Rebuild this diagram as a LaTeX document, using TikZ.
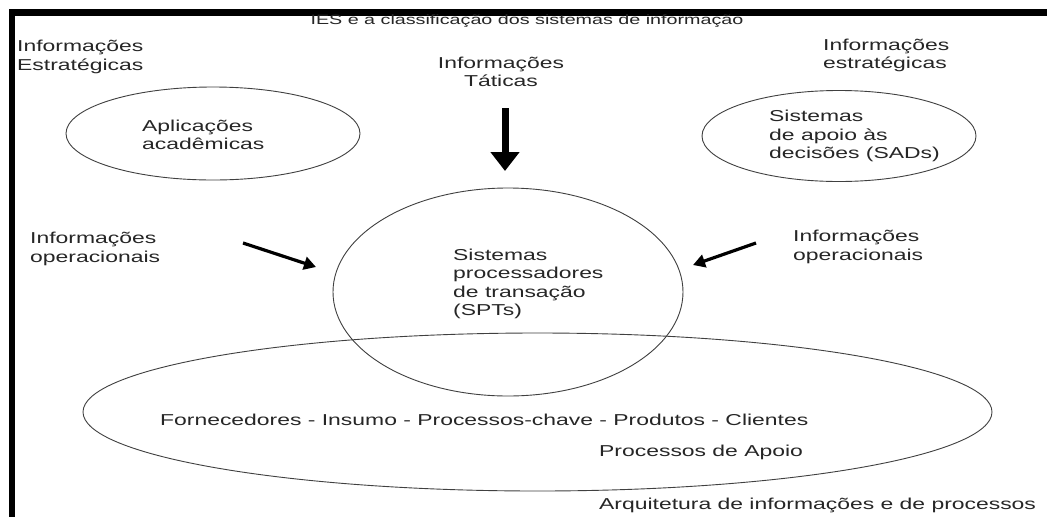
\documentclass[tikz,border=0pt]{standalone}
\usepackage{fontspec}
\setmainfont{Liberation Sans}[FakeStretch=1.45]
\usetikzlibrary{shapes.geometric,arrows.meta}
\begin{document}
\begin{tikzpicture}[x=1pt,y=-1pt,
  lbl/.style={font=\fontsize{15.8}{18.5}\selectfont, text=black!85, inner sep=0pt, align=left},
  ring/.style={ellipse, draw=black!75, line width=0.9pt, inner sep=0pt},
  flow/.style={line width=3.2pt, -{Triangle[length=12pt,width=13pt]}},
  bigflow/.style={line width=7pt, -{Triangle[length=19pt,width=28pt]}}]
\useasboundingbox (0,0) rectangle (1047,517);
\fill[white] (0,0) rectangle (1047,517);
% frame bars
\fill[black] (9,9) rectangle (1047,15.5);
\fill[black] (9,9) rectangle (15,517);

% outlines
\node[ring, minimum width=294pt, minimum height=93pt] (apps) at (213,133.5) {};
\node[ring, minimum width=274pt, minimum height=91pt] (sads) at (839,136) {};
\node[ring, minimum width=350pt, minimum height=208pt] (spt) at (508,292) {};
\node[ring, minimum width=909pt, minimum height=158pt] (arq) at (537.5,412) {};

% labels
\node[lbl, font=\fontsize{13.6}{16}\selectfont] (title) at (527,21.5) {IES e a classificação dos sistemas de informação};
\node[lbl, anchor=west] (estrL) at (17,57) {Informações\\Estratégicas};
\node[lbl, align=center] (tat) at (501,72) {Informações\\Táticas};
\node[lbl, anchor=west] (estrR) at (823,55.5) {Informações\\estratégicas};
\node[lbl, anchor=west] (appsT) at (142,135) {Aplicações\\acadêmicas};
\node[lbl, anchor=west] (sadsT) at (769,136) {Sistemas\\de apoio às\\decisões (SADs)};
\node[lbl, anchor=west] (opL) at (30,249) {Informações\\operacionais};
\node[lbl, anchor=west] (opR) at (793,247) {Informações\\operacionais};
\node[lbl, anchor=west] (sptT) at (453,284) {Sistemas\\processadores\\de transação\\(SPTs)};
\node[lbl, anchor=west] (cadeia) at (160,420) {Fornecedores - Insumo - Processos-chave - Produtos - Clientes};
\node[lbl, anchor=west] (apoio) at (599,452) {Processos de Apoio};
\node[lbl, anchor=west] (arqT) at (599,505) {Arquitetura de informações e de processos};

% arrows
\coordinate (tatA) at (505,108);
\coordinate (tatB) at (505,171);
\coordinate (opLA) at (243,243);
\coordinate (opLB) at (316,267);
\coordinate (opRA) at (756,243);
\coordinate (opRB) at (693,265);
\draw[bigflow] (tatA) -- (tatB);
\draw[flow] (opLA) -- (opLB);
\draw[flow] (opRA) -- (opRB);
\end{tikzpicture}
\end{document}
